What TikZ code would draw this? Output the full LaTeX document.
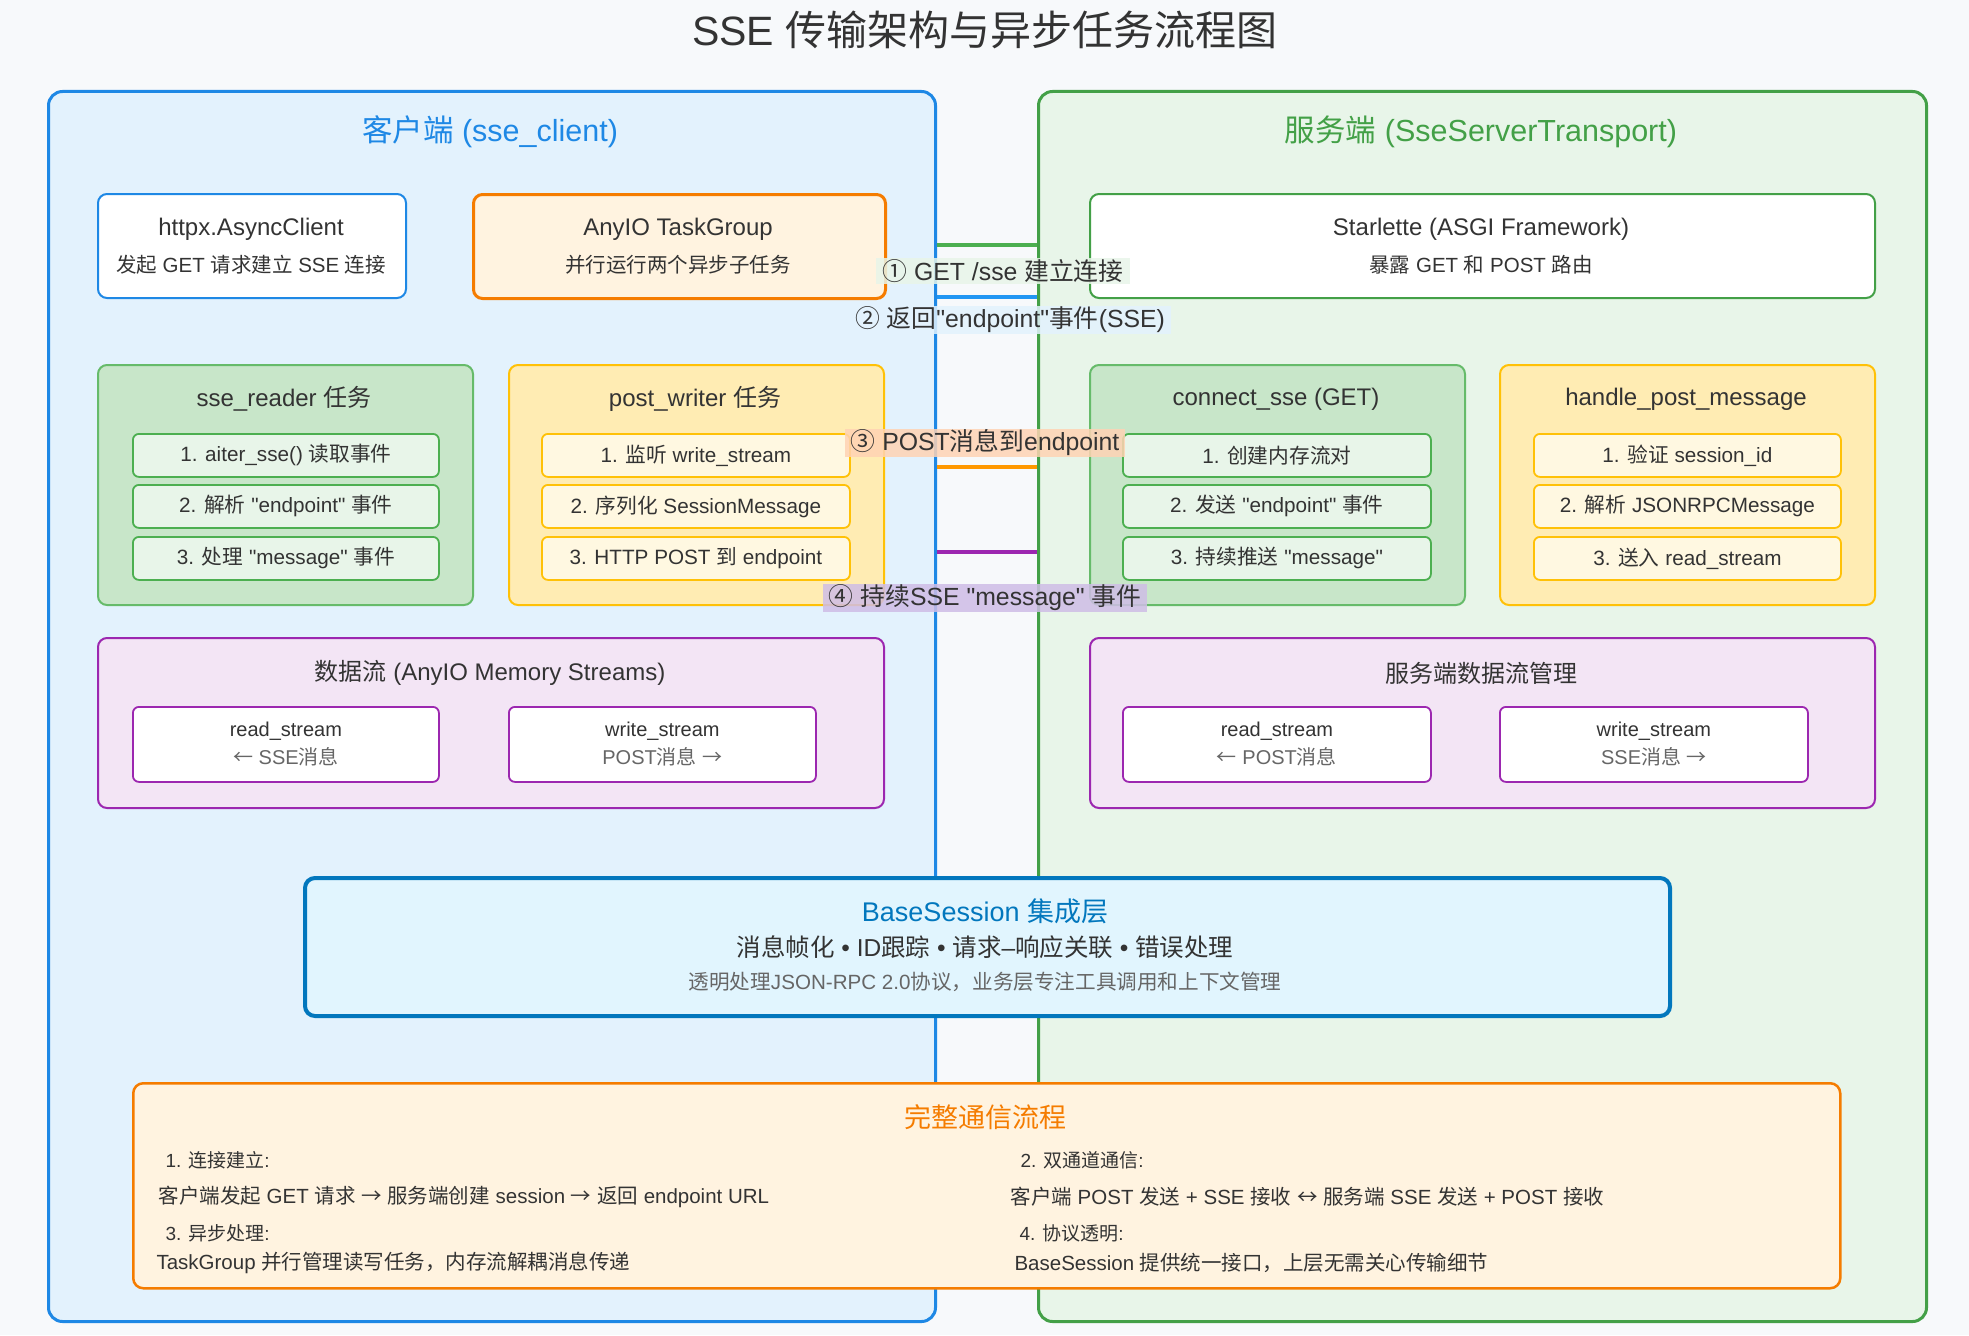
\documentclass[tikz,border=0pt]{standalone}
\usepackage{fontspec}
\setmainfont{Liberation Sans}
\newfontfamily\zhfont{Noto Sans CJK SC}
% CJK characters switch to the CJK family by themselves
\XeTeXinterchartokenstate=1
\newXeTeXintercharclass\zhclass
\newcount\zhc
\def\zhrange#1#2{\zhc=#1\relax\loop\XeTeXcharclass\zhc=\zhclass\relax\ifnum\zhc<#2\advance\zhc by 1\repeat}
\zhrange{"4E00}{"9FFF}
\zhrange{"3000}{"303F}
\zhrange{"FF00}{"FFEF}
\zhrange{"2460}{"24FF}
\zhrange{"2190}{"21FF}
\XeTeXinterchartoks 0 \zhclass = {\begingroup\zhfont}
\XeTeXinterchartoks 4095 \zhclass = {\begingroup\zhfont}
\XeTeXinterchartoks \zhclass 0 = {\endgroup}
\XeTeXinterchartoks \zhclass 4095 = {\endgroup}
\newcommand{\dq}{\textquotedbl}
\usetikzlibrary{positioning}
\definecolor{bgpage}{HTML}{F7F9FB}
\definecolor{ink}{HTML}{333333}
\definecolor{inkgray}{HTML}{666666}
\definecolor{cliline}{HTML}{1E88E5}
\definecolor{clifill}{HTML}{E3F2FD}
\definecolor{clitext}{HTML}{1E88E5}
\definecolor{srvline}{HTML}{43A047}
\definecolor{srvfill}{HTML}{E8F5E9}
\definecolor{srvtext}{HTML}{43A047}
\definecolor{orgline}{HTML}{F57C00}
\definecolor{orgfill}{HTML}{FFF3E0}
\definecolor{grnbox}{HTML}{C8E6C9}
\definecolor{grnline}{HTML}{66BB6A}
\definecolor{grnitem}{HTML}{E8F5E9}
\definecolor{grnitemline}{HTML}{4CAF50}
\definecolor{ylwbox}{HTML}{FFECB3}
\definecolor{ylwline}{HTML}{FFC107}
\definecolor{ylwitem}{HTML}{FFF8E1}
\definecolor{prpbox}{HTML}{F3E5F5}
\definecolor{prpline}{HTML}{9C27B0}
\definecolor{sesfill}{HTML}{E1F5FE}
\definecolor{sesline}{HTML}{0277BD}
\definecolor{wireG}{HTML}{4CAF50}
\definecolor{wireB}{HTML}{2196F3}
\definecolor{wireO}{HTML}{FF9800}
\definecolor{wireP}{HTML}{9C27B0}
\definecolor{tagG}{HTML}{E8F5E9}
\definecolor{tagB}{HTML}{E3F2FD}
\definecolor{tagO}{HTML}{FFD3B4}
\definecolor{tagP}{HTML}{CFBDE6}
\begin{document}
\begin{tikzpicture}[x=1pt,y=-1pt,
 panel/.style={draw,rounded corners=14pt,line width=3pt,anchor=north west,inner sep=0pt},
 card/.style={draw,rounded corners=9pt,line width=2pt,anchor=north west,inner sep=0pt},
 item/.style={draw,rounded corners=6pt,line width=1.8pt,anchor=north west,inner sep=0pt,minimum height=43pt,text=ink,font=\fontsize{20.7}{24}\selectfont},
 pipe/.style={draw=prpline,fill=white,rounded corners=6pt,line width=1.8pt,anchor=north west,inner sep=0pt,minimum height=75pt,align=center,text=ink,font=\fontsize{20}{28}\selectfont},
 ttl/.style={text=ink,font=\fontsize{24}{28}\selectfont},
 sub/.style={text=ink,font=\fontsize{20.5}{24}\selectfont},
 wire/.style={line width=4pt},
 flowtag/.style={fill opacity=0.85,text opacity=1,inner xsep=6pt,inner ysep=1pt,minimum height=25pt,text=ink,font=\fontsize{24.8}{28}\selectfont},
 note/.style={anchor=west,text=ink,font=\fontsize{20.5}{24}\selectfont}]
 \useasboundingbox (0,0) rectangle (1969,1335);
 \fill[bgpage] (0,0) rectangle (1969,1335);
 \node[text=ink,font=\fontsize{41}{50}\selectfont] (title) at (985,30) {SSE 传输架构与异步任务流程图};
 % two sides
 \node[panel,draw=cliline,fill=clifill,minimum width=887pt,minimum height=1230pt] (client) at (47,90) {};
 \node[panel,draw=srvline,fill=srvfill,minimum width=888pt,minimum height=1230pt] (server) at (1037,90) {};
 \node[text=clitext,font=\fontsize{30.5}{36}\selectfont] (clientname) at (490,132) {客户端 (sse\_client)};
 \node[text=srvtext,font=\fontsize{30.5}{36}\selectfont] (servername) at (1481,132) {服务端 (SseServerTransport)};
 % wires between the sides
 \draw[wire,wireG] (client.east |- 0,245) -- (server.west |- 0,245);
 \draw[wire,wireB] (client.east |- 0,297) -- (server.west |- 0,297);
 \draw[wire,wireO] (client.east |- 0,467) -- (server.west |- 0,467);
 \draw[wire,wireP] (client.east |- 0,552) -- (server.west |- 0,552);
 % client
 \node[card,draw=cliline,fill=white,minimum width=308pt,minimum height=104pt] (httpx) at (97,193) {};
 \node[ttl] (httpxname) at (251,229) {httpx.AsyncClient};
 \node[sub] (httpxnote) at (251,265) {发起 GET 请求建立 SSE 连接};
 \node[card,draw=orgline,fill=orgfill,line width=3pt,minimum width=412pt,minimum height=104pt] (taskgroup) at (472,193) {};
 \node[ttl] (taskgroupname) at (678,229) {AnyIO TaskGroup};
 \node[sub] (taskgroupnote) at (678,265) {并行运行两个异步子任务};
 \node[card,draw=grnline,fill=grnbox,minimum width=375pt,minimum height=240pt] (reader) at (97,364) {};
 \node[ttl] (readername) at (284,399) {sse\_reader 任务};
 \node[item,draw=grnitemline,fill=grnitem,minimum width=306pt] (reader1) at (132,433) {1. aiter\_sse() 读取事件};
 \node[item,draw=grnitemline,fill=grnitem,minimum width=306pt] (reader2) at (132,484) {2. 解析 \dq endpoint\dq{} 事件};
 \node[item,draw=grnitemline,fill=grnitem,minimum width=306pt] (reader3) at (132,536) {3. 处理 \dq message\dq{} 事件};
 \node[card,draw=ylwline,fill=ylwbox,minimum width=375pt,minimum height=240pt] (writer) at (508,364) {};
 \node[ttl] (writername) at (695,399) {post\_writer 任务};
 \node[item,draw=ylwline,fill=ylwitem,minimum width=308pt] (writer1) at (541,433) {1. 监听 write\_stream};
 \node[item,draw=ylwline,fill=ylwitem,minimum width=308pt] (writer2) at (541,484) {2. 序列化 SessionMessage};
 \node[item,draw=ylwline,fill=ylwitem,minimum width=308pt] (writer3) at (541,536) {3. HTTP POST 到 endpoint};
 \node[card,draw=prpline,fill=prpbox,minimum width=786pt,minimum height=170pt] (clientflow) at (97,637) {};
 \node[ttl] (clientflowname) at (490,673) {数据流 (AnyIO Memory Streams)};
 \node[pipe,minimum width=306pt] (cread) at (132,706) {read\_stream\\{\color{inkgray}← SSE消息}};
 \node[pipe,minimum width=307pt] (cwrite) at (508,706) {write\_stream\\{\color{inkgray}POST消息 →}};
 % server
 \node[card,draw=srvline,fill=white,minimum width=785pt,minimum height=104pt] (starlette) at (1089,193) {};
 \node[ttl] (starlettename) at (1481,229) {Starlette (ASGI Framework)};
 \node[sub] (starlettenote) at (1481,265) {暴露 GET 和 POST 路由};
 \node[card,draw=grnline,fill=grnbox,minimum width=375pt,minimum height=240pt] (connect) at (1089,364) {};
 \node[ttl] (connectname) at (1276,399) {connect\_sse (GET)};
 \node[item,draw=grnitemline,fill=grnitem,minimum width=308pt] (connect1) at (1122,433) {1. 创建内存流对};
 \node[item,draw=grnitemline,fill=grnitem,minimum width=308pt] (connect2) at (1122,484) {2. 发送 \dq endpoint\dq{} 事件};
 \node[item,draw=grnitemline,fill=grnitem,minimum width=308pt] (connect3) at (1122,536) {3. 持续推送 \dq message\dq};
 \node[card,draw=ylwline,fill=ylwbox,minimum width=375pt,minimum height=240pt] (handler) at (1499,364) {};
 \node[ttl] (handlername) at (1686,399) {handle\_post\_message};
 \node[item,draw=ylwline,fill=ylwitem,minimum width=307pt] (handler1) at (1533,433) {1. 验证 session\_id};
 \node[item,draw=ylwline,fill=ylwitem,minimum width=307pt] (handler2) at (1533,484) {2. 解析 JSONRPCMessage};
 \node[item,draw=ylwline,fill=ylwitem,minimum width=307pt] (handler3) at (1533,536) {3. 送入 read\_stream};
 \node[card,draw=prpline,fill=prpbox,minimum width=785pt,minimum height=170pt] (serverflow) at (1089,637) {};
 \node[ttl] (serverflowname) at (1481,673) {服务端数据流管理};
 \node[pipe,minimum width=308pt] (sread) at (1122,706) {read\_stream\\{\color{inkgray}← POST消息}};
 \node[pipe,minimum width=308pt] (swrite) at (1499,706) {write\_stream\\{\color{inkgray}SSE消息 →}};
 % session layer
 \node[panel,draw=sesline,fill=sesfill,line width=4pt,rounded corners=10pt,minimum width=1365pt,minimum height=138pt] (session) at (303,876) {};
 \node[text=sesline,font=\fontsize{27}{32}\selectfont] (sessionname) at (985,911) {BaseSession 集成层};
 \node[text=ink,font=\fontsize{24.5}{28}\selectfont] (sessionjobs) at (985,947) {消息帧化 • ID跟踪 • 请求–响应关联 • 错误处理};
 \node[text=inkgray,font=\fontsize{20.6}{24}\selectfont] (sessionnote) at (985,982) {透明处理JSON-RPC 2.0协议，业务层专注工具调用和上下文管理};
 % summary
 \node[panel,draw=orgline,fill=orgfill,line width=2.5pt,rounded corners=10pt,minimum width=1707pt,minimum height=205pt] (summary) at (132,1082) {};
 \node[text=orgline,font=\fontsize{27}{32}\selectfont] (summaryname) at (985,1117) {完整通信流程};
 \node[note,font=\fontsize{19}{24}\selectfont] (step1) at (162,1160) {1. 连接建立:};
 \node[note] (step1text) at (155,1197) {客户端发起 GET 请求 → 服务端创建 session → 返回 endpoint URL};
 \node[note,font=\fontsize{19}{24}\selectfont] (step3) at (162,1233) {3. 异步处理:};
 \node[note] (step3text) at (153,1263) {TaskGroup 并行管理读写任务，内存流解耦消息传递};
 \node[note,font=\fontsize{19}{24}\selectfont] (step2) at (1017,1160) {2. 双通道通信:};
 \node[note] (step2text) at (1007,1197) {客户端 POST 发送 + SSE 接收 ↔ 服务端 SSE 发送 + POST 接收};
 \node[note,font=\fontsize{19}{24}\selectfont] (step4) at (1016,1233) {4. 协议透明:};
 \node[note] (step4text) at (1011,1263) {BaseSession 提供统一接口，上层无需关心传输细节};
 % wire labels
 \node[flowtag,fill=tagG] (tag1) at (1003,271) {① GET /sse 建立连接};
 \node[flowtag,fill=tagB] (tag2) at (1010,320) {② 返回\dq endpoint\dq 事件(SSE)};
 \node[flowtag,fill=tagO] (tag3) at (985,443) {③ POST消息到endpoint};
 \node[flowtag,fill=tagP] (tag4) at (985,598) {④ 持续SSE \dq message\dq{} 事件};
\end{tikzpicture}
\end{document}
